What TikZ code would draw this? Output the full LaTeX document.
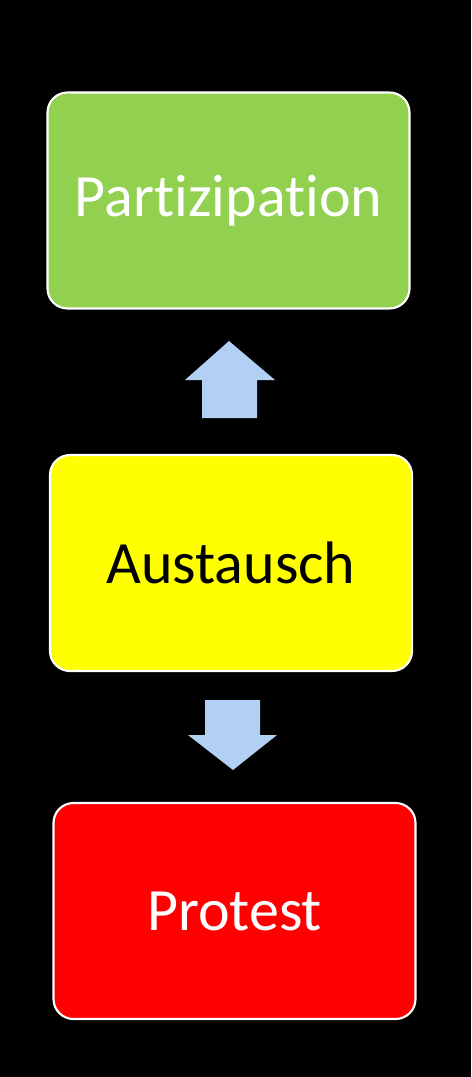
\documentclass[tikz,border=0pt]{standalone}
\usepackage{fontspec}
\setmainfont{Carlito}[Ligatures=NoCommon]
\usepackage{tikz}

\definecolor{stufegruen}{HTML}{92D050}
\definecolor{stufegelb}{HTML}{FFFF00}
\definecolor{stuferot}{HTML}{FF0000}
\definecolor{pfeilblau}{HTML}{B1D0F3}

\tikzset{
	stufe/.style={shape=rectangle,rounded corners=15pt,draw=white,line width=1.6pt,
		minimum width=362*0.75pt,minimum height=216*0.75pt,font=\fontsize{45}{52}\selectfont},
}

\begin{document}
\begin{tikzpicture}[x=0.75pt,y=-0.75pt]
	
	\fill[black] (0,0) rectangle (471,1077);
	
	\node[stufe,fill=stufegruen,text=white] (partizipation) at (228.5,200.5) {Partizipation};
	\node[stufe,fill=stufegelb,text=black] (austausch) at (231,563) {Austausch};
	\node[stufe,fill=stuferot,text=white] (protest) at (234.5,911) {Protest};
	
	\fill[pfeilblau] (202,418) -- (257,418) -- (257,380) -- (275,380) -- (229,341) -- (185,380) -- (202,380) -- cycle;
	\fill[pfeilblau] (205,700) -- (260,700) -- (260,735) -- (277,735) -- (233,770) -- (188,735) -- (205,735) -- cycle;
	
\end{tikzpicture}
\end{document}
